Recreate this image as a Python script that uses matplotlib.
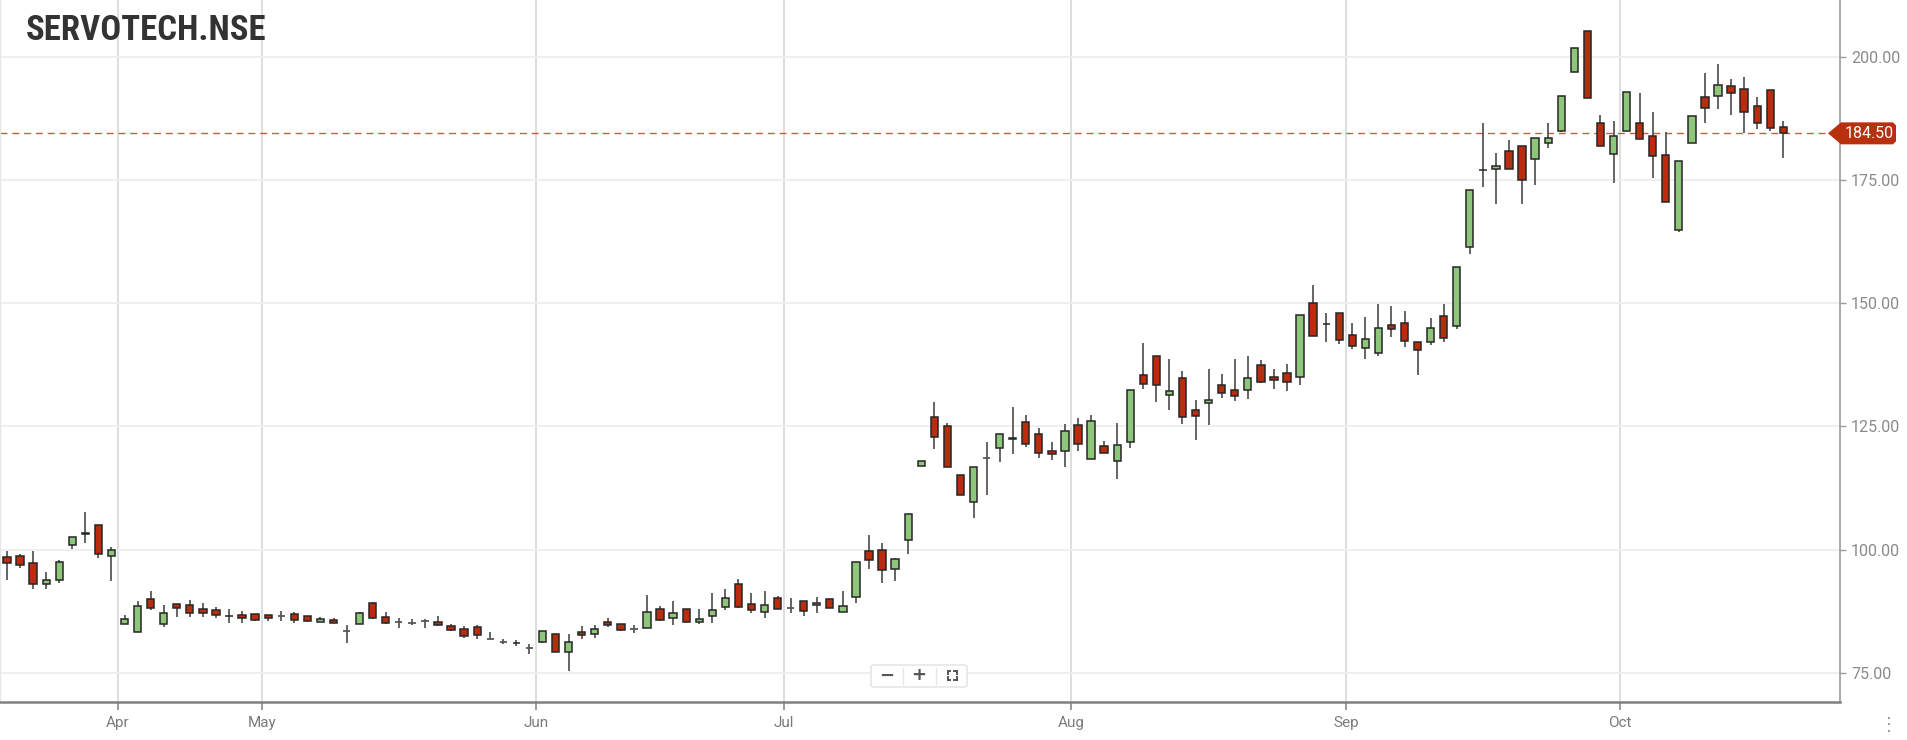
import matplotlib
matplotlib.use("Agg")
import matplotlib.pyplot as plt
from matplotlib import font_manager as fm
from matplotlib.patches import Polygon, FancyBboxPatch
from matplotlib.lines import Line2D

# ---------------- data ----------------
title = "SERVOTECH.NSE"

opens = [98.4, 98.8, 97.3, 93.0, 93.8, 100.9, 103.25, 105.0, 98.8,
         84.9, 83.3, 90.0, 84.8, 89.0, 88.7, 88.0, 87.7, 86.6, 86.8, 87.0,
         86.7, 86.5, 87.0, 86.5, 85.3, 85.7, 83.5, 84.9, 89.2, 86.4, 85.2, 85.0, 85.6, 85.4, 84.4,
         83.9, 84.2, 81.85, 81.3, 80.95, 80.0,
         81.3, 82.9, 79.3, 83.3, 82.9, 85.4, 84.9, 83.9, 84.1, 87.9, 86.1, 87.9, 85.4, 86.6,
         88.4, 93.0, 89.0, 87.4, 90.2,
         88.1, 89.5, 88.7, 90.0, 87.3, 90.4, 99.7, 100.0, 96.0, 101.9, 116.9, 126.9, 125.1,
         115.1, 109.7, 118.5, 120.7, 122.6, 126.0, 123.5, 120.0, 120.0,
         125.3, 118.4, 121.0, 117.9, 121.9, 135.5, 139.3, 131.4, 134.9, 128.3, 129.8, 133.5,
         132.4, 132.4, 137.5, 135.0, 135.9, 135.0, 150.0, 145.8, 148.0,
         143.6, 141.0, 140.0, 145.6, 145.9, 142.1, 142.05, 147.4, 145.3, 161.4, 177.0, 177.2,
         181.0, 182.0, 179.2, 182.5, 185.0, 196.95, 205.3, 186.5, 180.4,
         185.0, 186.5, 184.0, 180.1, 164.9, 182.5, 191.9, 192.15, 194.1, 193.6, 190.05, 193.2,
         185.8]
highs = [99.7, 99.2, 99.7, 95.4, 97.8, 102.5, 107.6, 105.0, 100.6,
         86.7, 89.6, 91.6, 88.8, 89.0, 89.8, 89.1, 88.4, 88.0, 87.5, 87.0,
         86.7, 87.6, 87.4, 86.5, 86.4, 86.1, 84.7, 87.4, 89.4, 87.3, 86.2, 86.0, 86.0, 86.5, 84.8,
         84.4, 84.6, 83.3, 81.85, 81.65, 80.8,
         83.5, 82.9, 82.9, 84.4, 84.6, 86.2, 84.9, 84.6, 90.8, 88.5, 89.5, 87.9, 88.0, 91.1,
         92.1, 94.0, 91.1, 91.6, 90.5,
         90.1, 89.5, 90.3, 90.0, 91.6, 97.4, 103.0, 101.4, 98.3, 107.3, 118.0, 130.0, 125.6,
         115.1, 116.7, 121.8, 123.5, 129.0, 127.3, 124.6, 121.8, 125.4,
         126.7, 127.3, 122.1, 125.6, 132.4, 141.9, 139.3, 138.6, 136.3, 130.4, 136.6, 135.6,
         138.6, 139.4, 138.5, 136.6, 137.7, 147.6, 153.7, 148.0, 148.0,
         146.1, 147.2, 149.8, 149.5, 148.5, 142.1, 147.0, 149.8, 157.3, 173.1, 186.6, 180.5,
         183.1, 182.0, 183.55, 186.6, 192.15, 201.8, 205.3, 188.2, 187.1,
         192.9, 192.6, 188.9, 184.8, 178.9, 188.1, 196.8, 198.6, 195.5, 196.0, 191.95, 193.2,
         187.1]
lows = [93.8, 96.2, 92.1, 91.9, 93.2, 100.1, 101.3, 98.2, 93.7,
        84.9, 83.3, 87.8, 84.2, 86.4, 86.3, 86.3, 86.1, 85.0, 85.0, 85.6,
        85.6, 85.5, 85.0, 85.2, 85.2, 85.0, 81.0, 84.9, 86.0, 84.8, 84.0, 84.6, 84.0, 84.4, 83.5,
        82.0, 81.8, 81.85, 80.8, 80.4, 78.9,
        81.0, 79.3, 75.4, 81.8, 82.0, 84.2, 83.5, 83.0, 84.1, 85.6, 84.6, 85.0, 84.8, 85.0,
        87.8, 88.2, 87.1, 86.1, 87.9,
        87.1, 86.5, 87.1, 88.2, 87.3, 89.1, 96.0, 93.3, 93.6, 99.2, 116.9, 120.4, 116.8,
        111.0, 106.4, 111.0, 117.8, 119.4, 120.8, 118.5, 118.2, 116.8,
        120.1, 118.4, 119.7, 114.3, 120.6, 132.7, 130.0, 128.3, 125.4, 122.3, 125.2, 130.8,
        130.2, 130.5, 133.8, 132.5, 132.1, 133.4, 143.3, 142.2, 141.7,
        140.7, 138.7, 139.2, 143.2, 141.2, 135.4, 141.5, 142.2, 144.7, 160.0, 173.7, 170.2,
        177.3, 170.2, 174.0, 181.6, 184.7, 196.95, 191.6, 182.0, 174.5,
        185.0, 183.3, 175.4, 170.6, 164.4, 182.5, 186.7, 189.5, 188.2, 184.5, 185.45, 185.0,
        179.4]
closes = [97.3, 96.8, 93.0, 93.8, 97.4, 102.5, 103.3, 99.1, 99.9,
          85.9, 88.5, 88.2, 87.2, 88.2, 87.2, 87.1, 86.7, 86.55, 86.1, 85.8,
          86.1, 86.5, 85.8, 85.6, 85.9, 85.1, 83.5, 87.2, 86.2, 85.0, 85.2, 85.0, 85.6, 84.6, 83.6,
          82.5, 82.6, 81.85, 81.3, 81.0, 80.0,
          83.5, 79.3, 81.3, 82.6, 83.8, 84.6, 83.6, 83.9, 87.4, 85.8, 87.2, 85.2, 86.0, 87.7,
          90.2, 88.4, 87.7, 88.7, 87.9,
          88.1, 87.6, 89.2, 88.2, 88.5, 97.4, 97.8, 95.8, 98.1, 107.3, 118.0, 122.9, 116.8,
          111.0, 116.7, 118.5, 123.5, 122.55, 121.5, 119.7, 119.5, 124.1,
          121.5, 126.1, 119.7, 121.2, 132.4, 133.7, 133.35, 132.2, 127.0, 127.1, 130.4, 131.7,
          131.2, 134.9, 134.0, 134.4, 134.1, 147.6, 143.3, 145.75, 142.55,
          141.3, 142.8, 144.9, 144.8, 142.35, 140.5, 144.9, 143.0, 157.3, 173.1, 177.05, 177.9,
          177.3, 175.0, 183.55, 183.55, 192.15, 201.8, 191.6, 182.0, 184.0,
          192.9, 183.3, 179.8, 170.6, 178.9, 188.1, 189.6, 194.4, 192.6, 188.8, 186.5, 185.5,
          184.5]

month_labels = ["Apr", "May", "Jun", "Jul", "Aug", "Sep", "Oct"]
month_first_candle = [9, 20, 41, 60, 82, 103, 124]
y_ticks = [75, 100, 125, 150, 175, 200]

# ---------------- styling ----------------
W, H = 1907, 740
GREEN = "#8ec77b"
RED = "#b92d0e"
EDGE = "#262626"
WICK = "#585858"

names = {f.name for f in fm.fontManager.ttflist}
base_font = "Roboto" if "Roboto" in names else "DejaVu Sans"
title_font = base_font
for cand in ["Roboto Condensed", "Liberation Sans Narrow", "Open Sans Condensed"]:
    if cand in names:
        title_font = cand
        break

plt.rcParams["font.family"] = [base_font, "DejaVu Sans"]

fig = plt.figure(figsize=(W / 100, H / 100), dpi=100)
ax = fig.add_axes([0, 38 / H, 1840 / W, 702 / H])

n = len(closes)
xs = list(range(n))

ax.set_xlim(-0.534, 140.34)
ax.set_ylim(69.06, 211.57)

# wicks
ax.vlines(xs, lows, highs, colors=WICK, linewidth=1.3, zorder=3)

# bodies
bw = 0.56
for i in xs:
    o, c = opens[i], closes[i]
    if c == o:
        ax.hlines(o, i - bw / 2, i + bw / 2, colors=WICK, linewidth=1.3, zorder=4)
        continue
    col = GREEN if c > o else RED
    ax.bar(i, abs(c - o), bottom=min(o, c), width=bw, color=col,
           edgecolor=EDGE, linewidth=1.1, zorder=4)

# grid / ticks
month_pos = [m - 0.5 for m in month_first_candle]
ax.set_xticks(month_pos)
ax.set_xticklabels(month_labels)
ax.set_yticks(y_ticks)
ax.set_yticklabels([f"{v:.2f}" for v in y_ticks])
ax.yaxis.tick_right()
ax.set_axisbelow(True)
ax.xaxis.grid(True, color="#dedede", linewidth=1.4)
ax.yaxis.grid(True, color="#eeeeee", linewidth=1.3)

ax.tick_params(axis="x", direction="out", length=6, width=1.2, color="#8a8a8a",
               labelcolor="#7a7a7a", labelsize=11, pad=4)
ax.tick_params(axis="y", direction="out", length=4, width=1.0, color="#9a9a9a",
               labelcolor="#8a8a8a", labelsize=11.5, pad=4)

ax.spines["top"].set_visible(False)
ax.spines["left"].set_color("#e6e6e6")
ax.spines["left"].set_linewidth(1.0)
ax.spines["bottom"].set_color("#808080")
ax.spines["bottom"].set_linewidth(1.8)
ax.spines["right"].set_color("#9a9a9a")
ax.spines["right"].set_linewidth(1.2)

# last price line
last = closes[-1]
ax.axhline(last, color="#d5573f", linewidth=1.0, dashes=(5, 3.5), zorder=2)

# last price tag (pixel geometry derived from the data position)
fig.canvas.draw()
yd = ax.transData.transform((0, last))[1]
xr = ax.transAxes.transform((1, 0))[0]
pts = [(xr - 12, yd), (xr + 1, yd + 11), (xr + 53, yd + 11), (xr + 56, yd + 8),
       (xr + 56, yd - 8), (xr + 53, yd - 11), (xr + 1, yd - 11)]
tag = Polygon([(x / W, y / H) for x, y in pts], closed=True, transform=fig.transFigure,
              facecolor="#b8300d", edgecolor="none", zorder=10)
fig.add_artist(tag)
fig.text((xr + 29) / W, yd / H, f"{last:.2f}", color="white", fontsize=11.5,
         ha="center", va="center", zorder=11)

# title
fig.text(26 / W, 1 - 39.5 / H, title, fontsize=25, fontweight="bold", color="#333333",
         family=[title_font, "DejaVu Sans"], va="baseline", ha="left")

# zoom controls
bx0, bx1, by0, by1 = 871, 967, 740 - 687, 740 - 665
box = FancyBboxPatch((bx0 / W, by0 / H), (bx1 - bx0) / W, (by1 - by0) / H,
                     boxstyle="round,pad=0,rounding_size=0.002", transform=fig.transFigure,
                     facecolor="white", edgecolor="#e2e2e2", linewidth=1.0, zorder=12)
fig.add_artist(box)
for sx in (902.5, 935.5):
    fig.add_artist(Line2D([sx / W, sx / W], [(by0 + 3) / H, (by1 - 3) / H],
                          transform=fig.transFigure, color="#e6e6e6", linewidth=1.0, zorder=13))
cy = 740 - 675.5
fig.text(886.5 / W, cy / H, "\u2212", fontsize=13, fontweight="bold", color="#555555",
         ha="center", va="center", family="DejaVu Sans", zorder=14)
fig.text(919 / W, cy / H, "+", fontsize=13, fontweight="bold", color="#555555",
         ha="center", va="center", family="DejaVu Sans", zorder=14)
fx, fs, fa = 952, 4.5, 2.8
for sxn in (-1, 1):
    for syn in (-1, 1):
        ccx, ccy = fx + sxn * fs, cy + syn * fs
        fig.add_artist(Line2D([ccx / W, (ccx - sxn * fa) / W], [ccy / H, ccy / H],
                              transform=fig.transFigure, color="#555555", linewidth=1.4, zorder=14))
        fig.add_artist(Line2D([ccx / W, ccx / W], [ccy / H, (ccy - syn * fa) / H],
                              transform=fig.transFigure, color="#555555", linewidth=1.4, zorder=14))

# menu dots
fig.text(1889 / W, 15 / H, "\u22ee", fontsize=13, color="#9a9a9a", ha="center", va="center",
         family="DejaVu Sans")

fig.savefig("out.png", dpi=100, facecolor="white")
